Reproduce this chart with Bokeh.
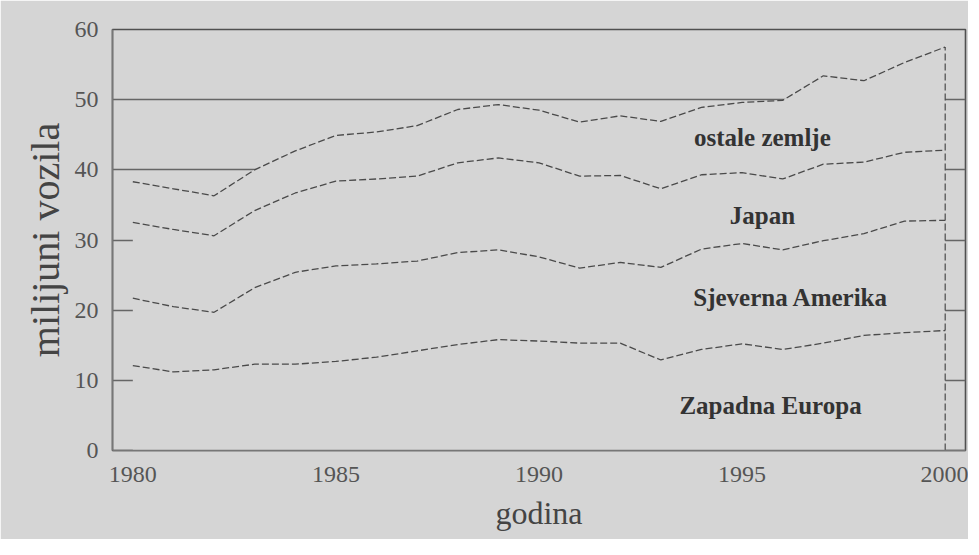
import numpy as np
from bokeh.plotting import figure
from bokeh.models import Range1d, FixedTicker, ColumnDataSource
from bokeh.core.properties import value
from bokeh.embed import file_html
from bokeh.resources import INLINE

# ---- data (milijuni vozila) ----
years = list(range(1980, 2001))
zapadna_europa = [12.1, 11.2, 11.5, 12.3, 12.3, 12.7, 13.3, 14.2, 15.1, 15.8, 15.6,
                  15.3, 15.3, 12.9, 14.4, 15.2, 14.4, 15.3, 16.4, 16.8, 17.1]
sjeverna_amerika = [9.6, 9.3, 8.2, 10.9, 13.1, 13.6, 13.3, 12.8, 13.1, 12.8, 12.0,
                    10.7, 11.5, 13.2, 14.3, 14.3, 14.2, 14.6, 14.5, 15.9, 15.7]
japan = [10.8, 11.0, 10.9, 11.0, 11.3, 12.1, 12.1, 12.1, 12.8, 13.1, 13.4,
         13.1, 12.4, 11.2, 10.6, 10.1, 10.1, 10.9, 10.2, 9.8, 10.0]
ostale_zemlje = [5.8, 5.8, 5.7, 5.8, 6.0, 6.5, 6.7, 7.2, 7.6, 7.6, 7.5,
                 7.7, 8.5, 9.6, 9.6, 10.0, 11.2, 12.6, 11.6, 12.8, 14.7]

region_names = ["Zapadna Europa", "Sjeverna Amerika", "Japan", "ostale zemlje"]
label_x = [1995.7, 1996.2, 1995.5, 1995.5]
label_y = [6.4, 21.8, 33.5, 44.6]

x_ticks = [1980, 1985, 1990, 1995, 2000]
y_ticks = [0, 10, 20, 30, 40, 50, 60]

# ---- stacking ----
series = [zapadna_europa, sjeverna_amerika, japan, ostale_zemlje]
cum = np.cumsum(np.array(series), axis=0)

BG = "#d5d5d5"
LINE = "#4a4a4a"
FONT = "Liberation Serif"

p = figure(width=968, height=539, output_backend="svg", toolbar_location=None,
           x_range=Range1d(1979.5, 2000.5), y_range=Range1d(0, 60),
           min_border_left=112, min_border_right=3, min_border_top=29,
           min_border_bottom=89)
p.background_fill_color = BG
p.border_fill_color = BG
p.outline_line_color = "#505050"
p.outline_line_width = 1.6

# grid lines (covered by the filled stack)
p.xgrid.visible = False
p.ygrid.ticker = FixedTicker(ticks=y_ticks)
p.ygrid.grid_line_color = "#666666"
p.ygrid.grid_line_width = 1.5

# fill under the total so that grid lines are hidden there
p.varea(x=years, y1=np.zeros(len(years)), y2=cum[-1], fill_color=BG)

# stacked dashed lines
for row in cum:
    p.line(years, row, line_color=LINE, line_width=1.3, line_dash="7 3")

# vertical dashed line at the last year
p.segment(x0=[years[-1]], y0=[0], x1=[years[-1]], y1=[cum[-1][-1]],
          line_color=LINE, line_width=1.2, line_dash="7 3")

# region labels
src = ColumnDataSource(dict(x=label_x, y=label_y, t=region_names))
p.text(x="x", y="y", text="t", source=src, text_font=value('"Liberation Serif", serif'),
       text_font_size="25px", text_font_style="bold", text_color="#333333",
       text_align="center", text_baseline="middle")

# axes
p.xaxis.ticker = FixedTicker(ticks=x_ticks)
p.yaxis.ticker = FixedTicker(ticks=y_ticks)
for ax in (p.xaxis[0], p.yaxis[0]):
    ax.major_tick_line_color = None
    ax.minor_tick_line_color = None
    ax.axis_line_color = "#777777"
    ax.axis_line_width = 1.5
    ax.major_label_text_font = FONT
    ax.major_label_text_font_size = "24px"
    ax.major_label_text_color = "#555555"
    ax.axis_label_text_font = FONT
    ax.axis_label_text_font_style = "normal"
    ax.axis_label_text_color = "#444444"

p.xaxis.major_label_standoff = 10
p.yaxis.major_label_standoff = 8
p.xaxis.axis_label = "godina"
p.xaxis.axis_label_text_font_size = "32px"
p.xaxis.axis_label_standoff = 10
p.yaxis.axis_label = "milijuni vozila"
p.yaxis.axis_label_text_font_size = "40px"
p.yaxis.axis_label_standoff = 4

open("out.html", "w").write(file_html(p, INLINE))
